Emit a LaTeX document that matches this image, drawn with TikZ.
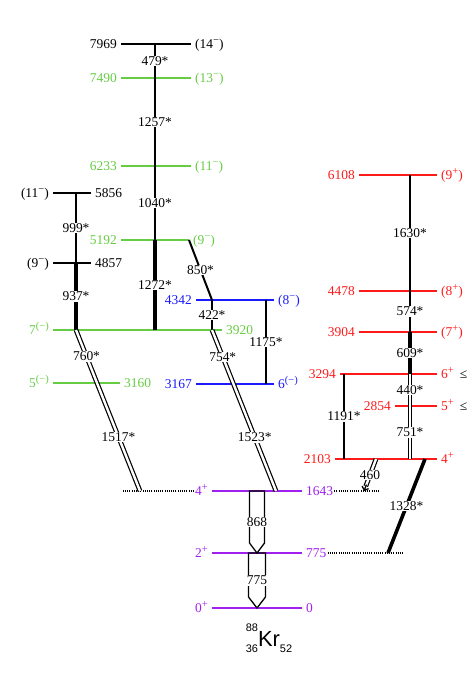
\documentclass[tikz,border=0pt]{standalone}
\usepackage{fontspec}
\setmainfont{Liberation Serif}
\setsansfont{Liberation Sans}
\usetikzlibrary{positioning,arrows.meta,calc}
\definecolor{lvgreen}{HTML}{66CC44}
\definecolor{lvblue}{HTML}{1A1AFF}
\definecolor{lvred}{HTML}{FF1A1A}
\definecolor{lvpurple}{HTML}{A020F0}
\newcommand{\up}[1]{\raisebox{5pt}{\fontsize{10.5}{10.5}\selectfont #1}}
\newcommand{\lvl}[7]{%
  \draw[lev,#2] (#3,#5) coordinate (#1w) -- (#4,#5) coordinate (#1e);
  \node[elab,#2,left=3pt of #1w] (#1L) {#6};
  \node[elab,#2,right=3pt of #1e] (#1R) {#7};}

\begin{document}
\begin{tikzpicture}[x=1bp,y=-1bp,font=\fontsize{13.5}{16}\selectfont,
  lev/.style={line width=1.7pt},
  elab/.style={inner sep=1pt,text height=9pt,text depth=0pt},
  gam/.style={line width=2.3pt},
  gdbl/.style={double,line width=1.2pt,double distance=2.4pt},
  glab/.style={fill=white,inner sep=1pt,text=black,text height=9pt,text depth=0pt},
  gdot/.style={line width=1.3pt,dash pattern=on 1pt off 1.2pt},
  harrow/.style={line width=1.3pt,line join=miter}]
\useasboundingbox (0,0) rectangle (469,676);

\lvl{a7969}{black}{121}{191}{44}{7969}{(14\up{−})}
\lvl{a7490}{lvgreen}{121}{191}{78}{7490}{(13\up{−})}
\lvl{a6233}{lvgreen}{121}{191}{166}{6233}{(11\up{−})}
\lvl{a5192}{lvgreen}{121}{189}{240}{5192}{(9\up{−})}
\lvl{b5856}{black}{53}{91}{193}{(11\up{−})}{5856}
\lvl{b4857}{black}{53}{91}{263}{(9\up{−})}{4857}
\lvl{b3920}{lvgreen}{53}{222}{330}{7\up{(−)}}{3920}
\lvl{b3160}{lvgreen}{53}{120}{383}{5\up{(−)}}{3160}
\lvl{c4342}{lvblue}{196}{274}{300}{4342}{(8\up{−})}
\lvl{c3167}{lvblue}{196}{274}{384}{3167}{6\up{(−)}}
\lvl{g1643}{lvpurple}{212}{302}{491}{4\up{+}}{1643}
\lvl{g775}{lvpurple}{212}{302}{553}{2\up{+}}{775}
\lvl{g0}{lvpurple}{212}{302}{608}{0\up{+}}{0}
\lvl{r6108}{lvred}{359}{437}{175}{6108}{(9\up{+})}
\lvl{r4478}{lvred}{359}{437}{291}{4478}{(8\up{+})}
\lvl{r3904}{lvred}{359}{437}{332}{3904}{(7\up{+})}
\lvl{r3294}{lvred}{340}{437}{374}{3294}{6\up{+}\hspace{0.45em}\textcolor{black}{≤}}
\lvl{r2854}{lvred}{395}{437}{406}{2854}{5\up{+}\hspace{0.45em}\textcolor{black}{≤}}
\lvl{r2103}{lvred}{335}{437}{459}{2103}{4\up{+}}

\foreach \n/\x in {A/155,B/76,C/212,D/233.5,E/276,F/97,G/140,H/266,I/410,J/344,K/257,L/376,M/364,N/425,O/388,P/123,Q/380,R/403}
  \coordinate (k\n) at (\x,0);

\draw[gdot] (g1643L.west) -- (g1643w -| kP);
\draw[gdot] (g1643R.east) -- (g1643w -| kQ);
\draw[gdot] (g775R.east) -- (g775w -| kR);

\draw[gam] (a7969w -| kA) -- node[glab] {479*} (a7490w -| kA);
\draw[gam] (a7490w -| kA) -- node[glab] {1257*} (a6233w -| kA);
\draw[gam,line width=2.5pt] (a6233w -| kA) -- node[glab] {1040*} (a5192w -| kA);
\draw[gam,line width=3.2pt] (a5192w -| kA) -- node[glab] {1272*} (b3920w -| kA);
\draw[gam] (b5856w -| kB) -- node[glab] {999*} (b4857w -| kB);
\draw[gam,line width=3.6pt] (b4857w -| kB) -- node[glab] {937*} (b3920w -| kB);
\draw[gam,line width=2pt] (a5192e) -- node[glab] {850*} (c4342w -| kC);
\draw[gam] (c4342w -| kC) -- node[glab] {422*} (b3920w -| kC);
\draw[gam,line width=2pt] (c4342w -| kH) -- node[glab] {1175*} (c3167w -| kH);
\draw[gdbl] (b3920w -| kC) -- node[glab] {754*} (c3167w -| kD) -- node[glab] {1523*} (g1643w -| kE);
\draw[gdbl] (b3920w -| kB) -- node[glab] {760*} (b3160w -| kF) -- node[glab] {1517*} (g1643w -| kG);

\draw[harrow] ($(g1643w -| kK)+(-7.5,0)$) -- ++(15,0) -- ++(0,52) -- (g775w -| kK) -- ++(-7.5,-10) -- cycle;
\node[glab] (l868) at ($(g1643w -| kK)!0.5!(g775w -| kK)$) {868};
\draw[harrow] ($(g775w -| kK)+(-8.5,0)$) -- ++(17,0) -- ++(0,44) -- (g0w -| kK) -- ++(-8.5,-11) -- cycle;
\node[glab] (l775) at ($(g775w -| kK)!0.5!(g0w -| kK)$) {775};

\draw[gam] (r6108w -| kI) -- node[glab] {1630*} (r4478w -| kI);
\draw[gam] (r4478w -| kI) -- node[glab] {574*} (r3904w -| kI);
\draw[gam,line width=3.2pt] (r3904w -| kI) -- node[glab] {609*} (r3294w -| kI);
\draw[gdbl] (r3294w -| kI) -- node[glab] {440*} (r2854w -| kI) -- node[glab] {751*} (r2103w -| kI);
\draw[gam,line width=2.7pt] (r3294w -| kJ) -- node[glab] {1191*} (r2103w -| kJ);
\draw[gdbl,shorten >=5pt] (r2103w -| kL) -- node[glab] {460} (g1643w -| kM);
\draw[line width=1.3pt,-{Straight Barb[length=3pt,width=7pt]}] ($(r2103w -| kL)!0.8!(g1643w -| kM)$) -- (g1643w -| kM);
\draw[gam,line width=3.6pt] (r2103w -| kN) -- node[glab] {1328*} (g775w -| kO);

\node[font=\sffamily,anchor=base,inner sep=0pt] (nuc) at (269,646)
  {\fontsize{11}{11}\selectfont\raisebox{15pt}{88}\llap{\raisebox{-6.5pt}{36}}\fontsize{22}{22}\selectfont Kr\fontsize{11}{11}\selectfont\raisebox{-6.5pt}{52}};
\end{tikzpicture}
\end{document}
